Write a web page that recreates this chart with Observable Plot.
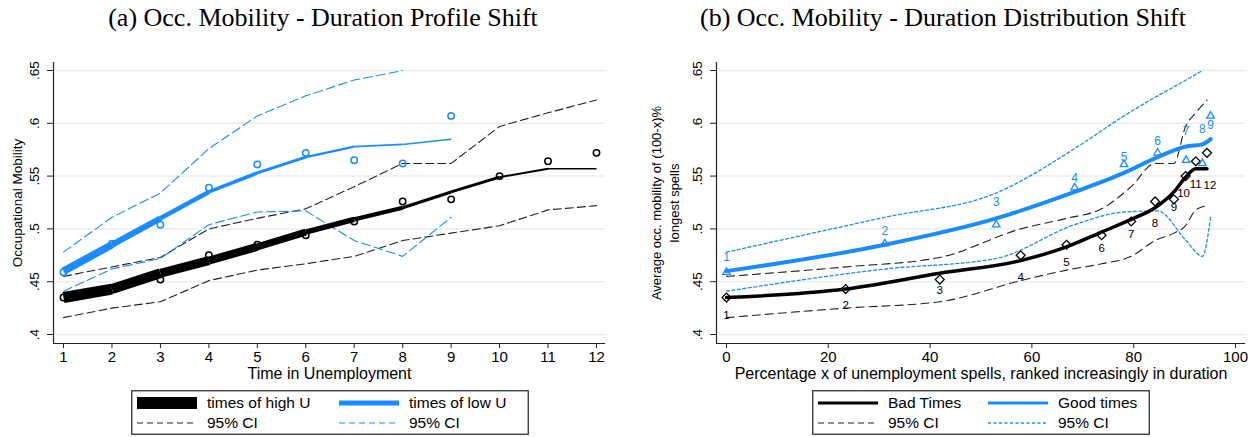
<!DOCTYPE html>
<html><head><meta charset="utf-8">
<script src="https://cdn.jsdelivr.net/npm/d3@7"></script>
<script src="https://cdn.jsdelivr.net/npm/@observablehq/plot@0.6"></script>
<style>
body{margin:0;background:#fff;}
#root{position:relative;width:1255px;height:437px;overflow:hidden;font-family:"Liberation Sans",Arial,sans-serif;background:#fff;}
.title{position:absolute;top:3px;font-family:"Liberation Serif","Times New Roman",serif;font-size:26px;line-height:30px;white-space:nowrap;transform:translateX(-50%);color:#000}
.panel{position:absolute;top:0}
.legend{position:absolute}
</style></head>
<body><div id="root">
<div class="title" style="left:323px">(a) Occ. Mobility - Duration Profile Shift</div>
<div class="title" style="left:943px">(b) Occ. Mobility - Duration Distribution Shift</div>
</div>
<script>
// ---------------- data ----------------
const duration = [1,2,3,4,5,6,7,8,9,10,11,12];
const highObserved = [0.435,0.443,0.452,0.475,0.485,0.494,0.507,0.526,0.528,0.550,0.564,0.572];
const highFitted   = [0.435,0.443,0.458,0.470,0.483,0.497,0.509,0.520,0.535,0.549,0.557,0.557];
const highUpper    = [0.455,0.464,0.473,0.500,0.510,0.519,0.540,0.562,0.562,0.597,0.610,0.622];
const highLower    = [0.416,0.425,0.431,0.451,0.461,0.467,0.474,0.489,0.496,0.503,0.518,0.522];
const lowDuration  = [1,2,3,4,5,6,7,8,9];
const lowObserved  = [0.459,0.486,0.504,0.539,0.561,0.572,0.565,0.562,0.607];
const lowFitted    = [0.460,0.485,0.510,0.535,0.553,0.568,0.578,0.580,0.585];
const lowUpper     = [0.478,0.511,0.534,0.576,0.607,0.626,0.641,0.650,null];
const lowLower     = [0.441,0.462,0.472,0.504,0.516,0.517,0.489,0.474,0.511];
const badTimesPct  = [0,23.4,41.9,57.8,66.8,73.7,79.5,84.2,87.9,90.2,92.2,94.4];
const goodTimesPct = [0,31.1,53.0,68.4,78.1,84.7,90.3,93.5,95.1];
const yTicks = [0.4,0.45,0.5,0.55,0.6,0.65];
const yTickLabels = [".4",".45",".5",".55",".6",".65"];
const xTicksLeft = [1,2,3,4,5,6,7,8,9,10,11,12];
const xTicksRight = [0,20,40,60,80,100];
const titleLeftX = "Time in Unemployment";
const titleLeftY = "Occupational Mobility";
const titleRightX = "Percentage x of unemployment spells, ranked increasingly in duration";
const titleRightY = "Average occ. mobility of (100-x)%\nlongest spells";
const legendLeft = ["times of high U","times of low U","95% CI","95% CI"];
const legendRight = ["Bad Times","Good times","95% CI","95% CI"];

// ---------------- styles ----------------
const BLUE = "#1a8cff", BLACK = "#000", GRID = "#e7eff0", AXIS = "#222";
const FONT = "'Liberation Sans', Arial, sans-serif";
const highSegWidth = [11,10,9,8,7,5.3,4.3,3.3,2.8,2,1.5];
const lowSegWidth = [7.5,6,4.5,3.6,3,2.3,1.8,1.5];
const badLabelDy = [18,16,11,22,18,13,13,22,8,17,23,32];
const badLabelDx = [0,0,0,0,0,0,0,0,0,-2,0,3];
const goodLabelDy = [-15,-13,-23,-10,-7,-12,-29,-34,9];

const high = duration.map((d,i)=>({d, pct: badTimesPct[i], obs: highObserved[i], fit: highFitted[i], hi: highUpper[i], lo: highLower[i], label: String(d)}));
const low = lowDuration.map((d,i)=>({d, pct: goodTimesPct[i], obs: lowObserved[i], fit: lowFitted[i], hi: lowUpper[i], lo: lowLower[i], label: String(d)}));
const segs = (rows, widths) => rows.slice(1).map((r,i)=>({x1: rows[i].d, y1: rows[i].fit, x2: r.d, y2: r.fit, w: widths[i]}));

const yDomain = [0.39148, 0.65758];
const fmtY = d => yTickLabels[yTicks.indexOf(d)];
const root = document.getElementById("root");

// ---------------- panel (a) ----------------
const xDomL = [0.7936, 12.186];
const left = Plot.plot({
  width: 627, height: 390,
  marginLeft: 53, marginRight: 22, marginTop: 62, marginBottom: 47,
  x: {domain: xDomL},
  y: {domain: yDomain},
  style: {fontFamily: FONT, fontSize: "15px", color: "#000", background: "transparent"},
  marks: [
    Plot.gridY(yTicks, {stroke: GRID, strokeOpacity: 1, strokeWidth: 1.5}),
    Plot.axisY(yTicks, {tickFormat: fmtY, tickRotate: -90, tickSize: 6, tickPadding: 9, fontSize: 13.5, stroke: AXIS, label: null}),
    Plot.axisX(xTicksLeft, {tickSize: 5, tickPadding: 3, fontSize: 15, stroke: AXIS, label: null}),
    Plot.ruleX([xDomL[0]], {stroke: AXIS, strokeWidth: 1.2}),
    Plot.ruleY([yDomain[0]], {stroke: AXIS, strokeWidth: 1.2}),
    Plot.line(high, {x: "d", y: "hi", stroke: "#222", strokeWidth: 1.1, strokeDasharray: "8,4"}),
    Plot.line(high, {x: "d", y: "lo", stroke: "#222", strokeWidth: 1.1, strokeDasharray: "8,4"}),
    Plot.line(low, {x: "d", y: "hi", stroke: BLUE, strokeWidth: 1.1, strokeDasharray: "9,4"}),
    Plot.line(low, {x: "d", y: "lo", stroke: BLUE, strokeWidth: 1.1, strokeDasharray: "9,4"}),
    Plot.link(segs(high, highSegWidth), {x1: "x1", y1: "y1", x2: "x2", y2: "y2", stroke: BLACK, strokeWidth: "w", strokeLinecap: "butt"}),
    Plot.link(segs(low, lowSegWidth), {x1: "x1", y1: "y1", x2: "x2", y2: "y2", stroke: BLUE, strokeWidth: "w", strokeLinecap: "butt"}),
    Plot.dot(high, {x: "d", y: "obs", r: 3.2, stroke: BLACK, strokeWidth: 1.5, fill: "none"}),
    Plot.dot(low, {x: "d", y: "obs", r: 3.2, stroke: BLUE, strokeWidth: 1.5, fill: "none"}),
    Plot.text([titleLeftX], {frameAnchor: "bottom", dy: 30, textAnchor: "middle", lineAnchor: "middle", fontSize: 16}),
    Plot.text([titleLeftY], {frameAnchor: "left", rotate: -90, dx: -36, textAnchor: "middle", lineAnchor: "middle", fontSize: 13.5})
  ]
});
left.classList.add("panel");
left.style.left = "0px";
root.appendChild(left);

// ---------------- panel (b) ----------------
const xDomR = [-1.965, 101.965];
const right = Plot.plot({
  width: 628, height: 390,
  marginLeft: 89, marginRight: 10, marginTop: 62, marginBottom: 47,
  x: {domain: xDomR},
  y: {domain: yDomain},
  style: {fontFamily: FONT, fontSize: "15px", color: "#000", background: "transparent"},
  marks: [
    Plot.gridY(yTicks, {stroke: GRID, strokeOpacity: 1, strokeWidth: 1.5}),
    Plot.axisY(yTicks, {tickFormat: fmtY, tickRotate: -90, tickSize: 6, tickPadding: 9, fontSize: 13.5, stroke: AXIS, label: null}),
    Plot.axisX(xTicksRight, {tickSize: 5, tickPadding: 3, fontSize: 15, stroke: AXIS, label: null}),
    Plot.ruleX([xDomR[0]], {stroke: AXIS, strokeWidth: 1.2}),
    Plot.ruleY([yDomain[0]], {stroke: AXIS, strokeWidth: 1.2}),
    Plot.line(high, {x: "pct", y: "hi", stroke: "#222", strokeWidth: 1.1, strokeDasharray: "8,5", curve: "monotone-x"}),
    Plot.line(high, {x: "pct", y: "lo", stroke: "#222", strokeWidth: 1.1, strokeDasharray: "8,5", curve: "monotone-x"}),
    Plot.line(low, {x: "pct", y: "hi", stroke: BLUE, strokeWidth: 1.3, strokeDasharray: "3,2.5", curve: "monotone-x"}),
    Plot.line(low, {x: "pct", y: "lo", stroke: BLUE, strokeWidth: 1.3, strokeDasharray: "3,2.5", curve: "monotone-x"}),
    Plot.line(high, {x: "pct", y: "fit", stroke: BLACK, strokeWidth: 3.5, curve: "monotone-x"}),
    Plot.line(low, {x: "pct", y: "fit", stroke: BLUE, strokeWidth: 4, curve: "monotone-x"}),
    Plot.dot(high, {x: "pct", y: "obs", symbol: "diamond2", r: 4, stroke: BLACK, strokeWidth: 1.3, fill: "none"}),
    Plot.dot(low, {x: "pct", y: "obs", symbol: "triangle2", r: 3.6, stroke: BLUE, strokeWidth: 1.3, fill: "none"}),
    ...high.map((r,i) => Plot.text([r], {x: "pct", y: "obs", text: "label", dx: badLabelDx[i], dy: badLabelDy[i], fill: "#000", fontSize: 11.5, lineAnchor: "middle"})),
    ...low.map((r,i) => Plot.text([r], {x: "pct", y: "obs", text: "label", dy: goodLabelDy[i], fill: BLUE, fontSize: 12, lineAnchor: "middle"})),
    Plot.text([titleRightX], {frameAnchor: "bottom", dy: 30, textAnchor: "middle", lineAnchor: "middle", fontSize: 16}),
    Plot.text([titleRightY], {frameAnchor: "left", rotate: -90, dx: -52, textAnchor: "middle", lineAnchor: "middle", lineHeight: 1.35, fontSize: 13})
  ]
});
right.classList.add("panel");
right.style.left = "627px";
root.appendChild(right);

// ---------------- legends ----------------
function legend(x, y, w, h, col2, texts, swatches) {
  const div = d3.select(root).append("div").attr("class", "legend")
    .style("left", x + "px").style("top", y + "px");
  const svg = div.append("svg").attr("width", w).attr("height", h);
  svg.append("rect").attr("x", 0.75).attr("y", 0.75).attr("width", w - 1.5).attr("height", h - 1.5)
    .attr("fill", "#fff").attr("stroke", "#333").attr("stroke-width", 1.3);
  const rows = [13, 33];
  const cols = [6, col2];
  swatches.forEach((s, i) => {
    const cx = cols[i % 2], cy = rows[Math.floor(i / 2)];
    svg.append("line").attr("x1", cx).attr("x2", cx + 60).attr("y1", cy).attr("y2", cy)
      .attr("stroke", s.c).attr("stroke-width", s.w).attr("stroke-dasharray", s.dash || null);
    svg.append("text").attr("x", cx + 70).attr("y", cy).attr("dy", "0.35em")
      .attr("font-family", FONT).attr("font-size", 15.5).attr("fill", "#000").text(texts[i]);
  });
}
legend(131, 390, 398, 45, 208, legendLeft, [
  {c: BLACK, w: 12}, {c: BLUE, w: 5}, {c: "#222", w: 1.1, dash: "6,4"}, {c: BLUE, w: 1.1, dash: "6,4"}
]);
legend(812, 390, 338, 45, 176, legendRight, [
  {c: BLACK, w: 3}, {c: BLUE, w: 3}, {c: "#222", w: 1.1, dash: "6,4"}, {c: BLUE, w: 1.3, dash: "3,2.5"}
]);
</script>
</body></html>
